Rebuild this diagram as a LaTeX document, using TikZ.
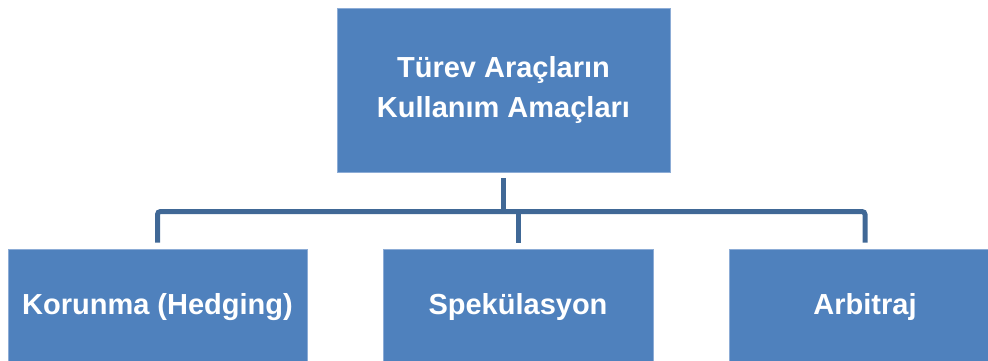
\documentclass[tikz,border=0pt]{standalone}
\usepackage{fontspec}
\setmainfont{Liberation Sans}
\definecolor{boxfill}{HTML}{4F81BD}
\definecolor{boxedge}{RGB}{140,172,214}
\definecolor{connblue}{RGB}{64,104,150}
\tikzset{
  catbox/.style={rectangle, fill=boxfill, draw=boxedge, line width=0.9pt,
    inner sep=0pt, text=white, font=\bfseries\fontsize{29}{40}\selectfont,
    align=center},
  conn/.style={draw=connblue, line width=5pt}
}
\begin{document}
\begin{tikzpicture}[x=1pt, y=-1pt]
  \useasboundingbox (0,0) rectangle (988,361);
  \clip (0,0) rectangle (988,361);

  % root
  \node[catbox, minimum width=333pt, minimum height=164pt] (top) at (503.5,90)
    {Türev Araçların\\Kullanım Amaçları};

  % branches
  \node[catbox, minimum width=299pt, minimum height=116pt] (b1) at (157.5,307)
    {Korunma (Hedging)};
  \node[catbox, minimum width=270pt, minimum height=116pt] (b2) at (518,307)
    {Spekülasyon};
  \node[catbox, minimum width=272pt, minimum height=116pt] (b3) at (865,307)
    {Arbitraj};

  % horizontal bus line
  \coordinate (bus) at (0,211.5);

  \draw[conn] ([yshift=-6pt]top.south) -- ([yshift=-1.5pt]top.south |- bus);
  \draw[conn, rounded corners=3pt] ([yshift=6pt]b1.north) -- (b1.north |- bus)
    -- (b3.north |- bus) -- ([yshift=6pt]b3.north);
  \draw[conn] ([yshift=6pt]b2.north) -- ([yshift=1.5pt]b2.north |- bus);
\end{tikzpicture}
\end{document}
